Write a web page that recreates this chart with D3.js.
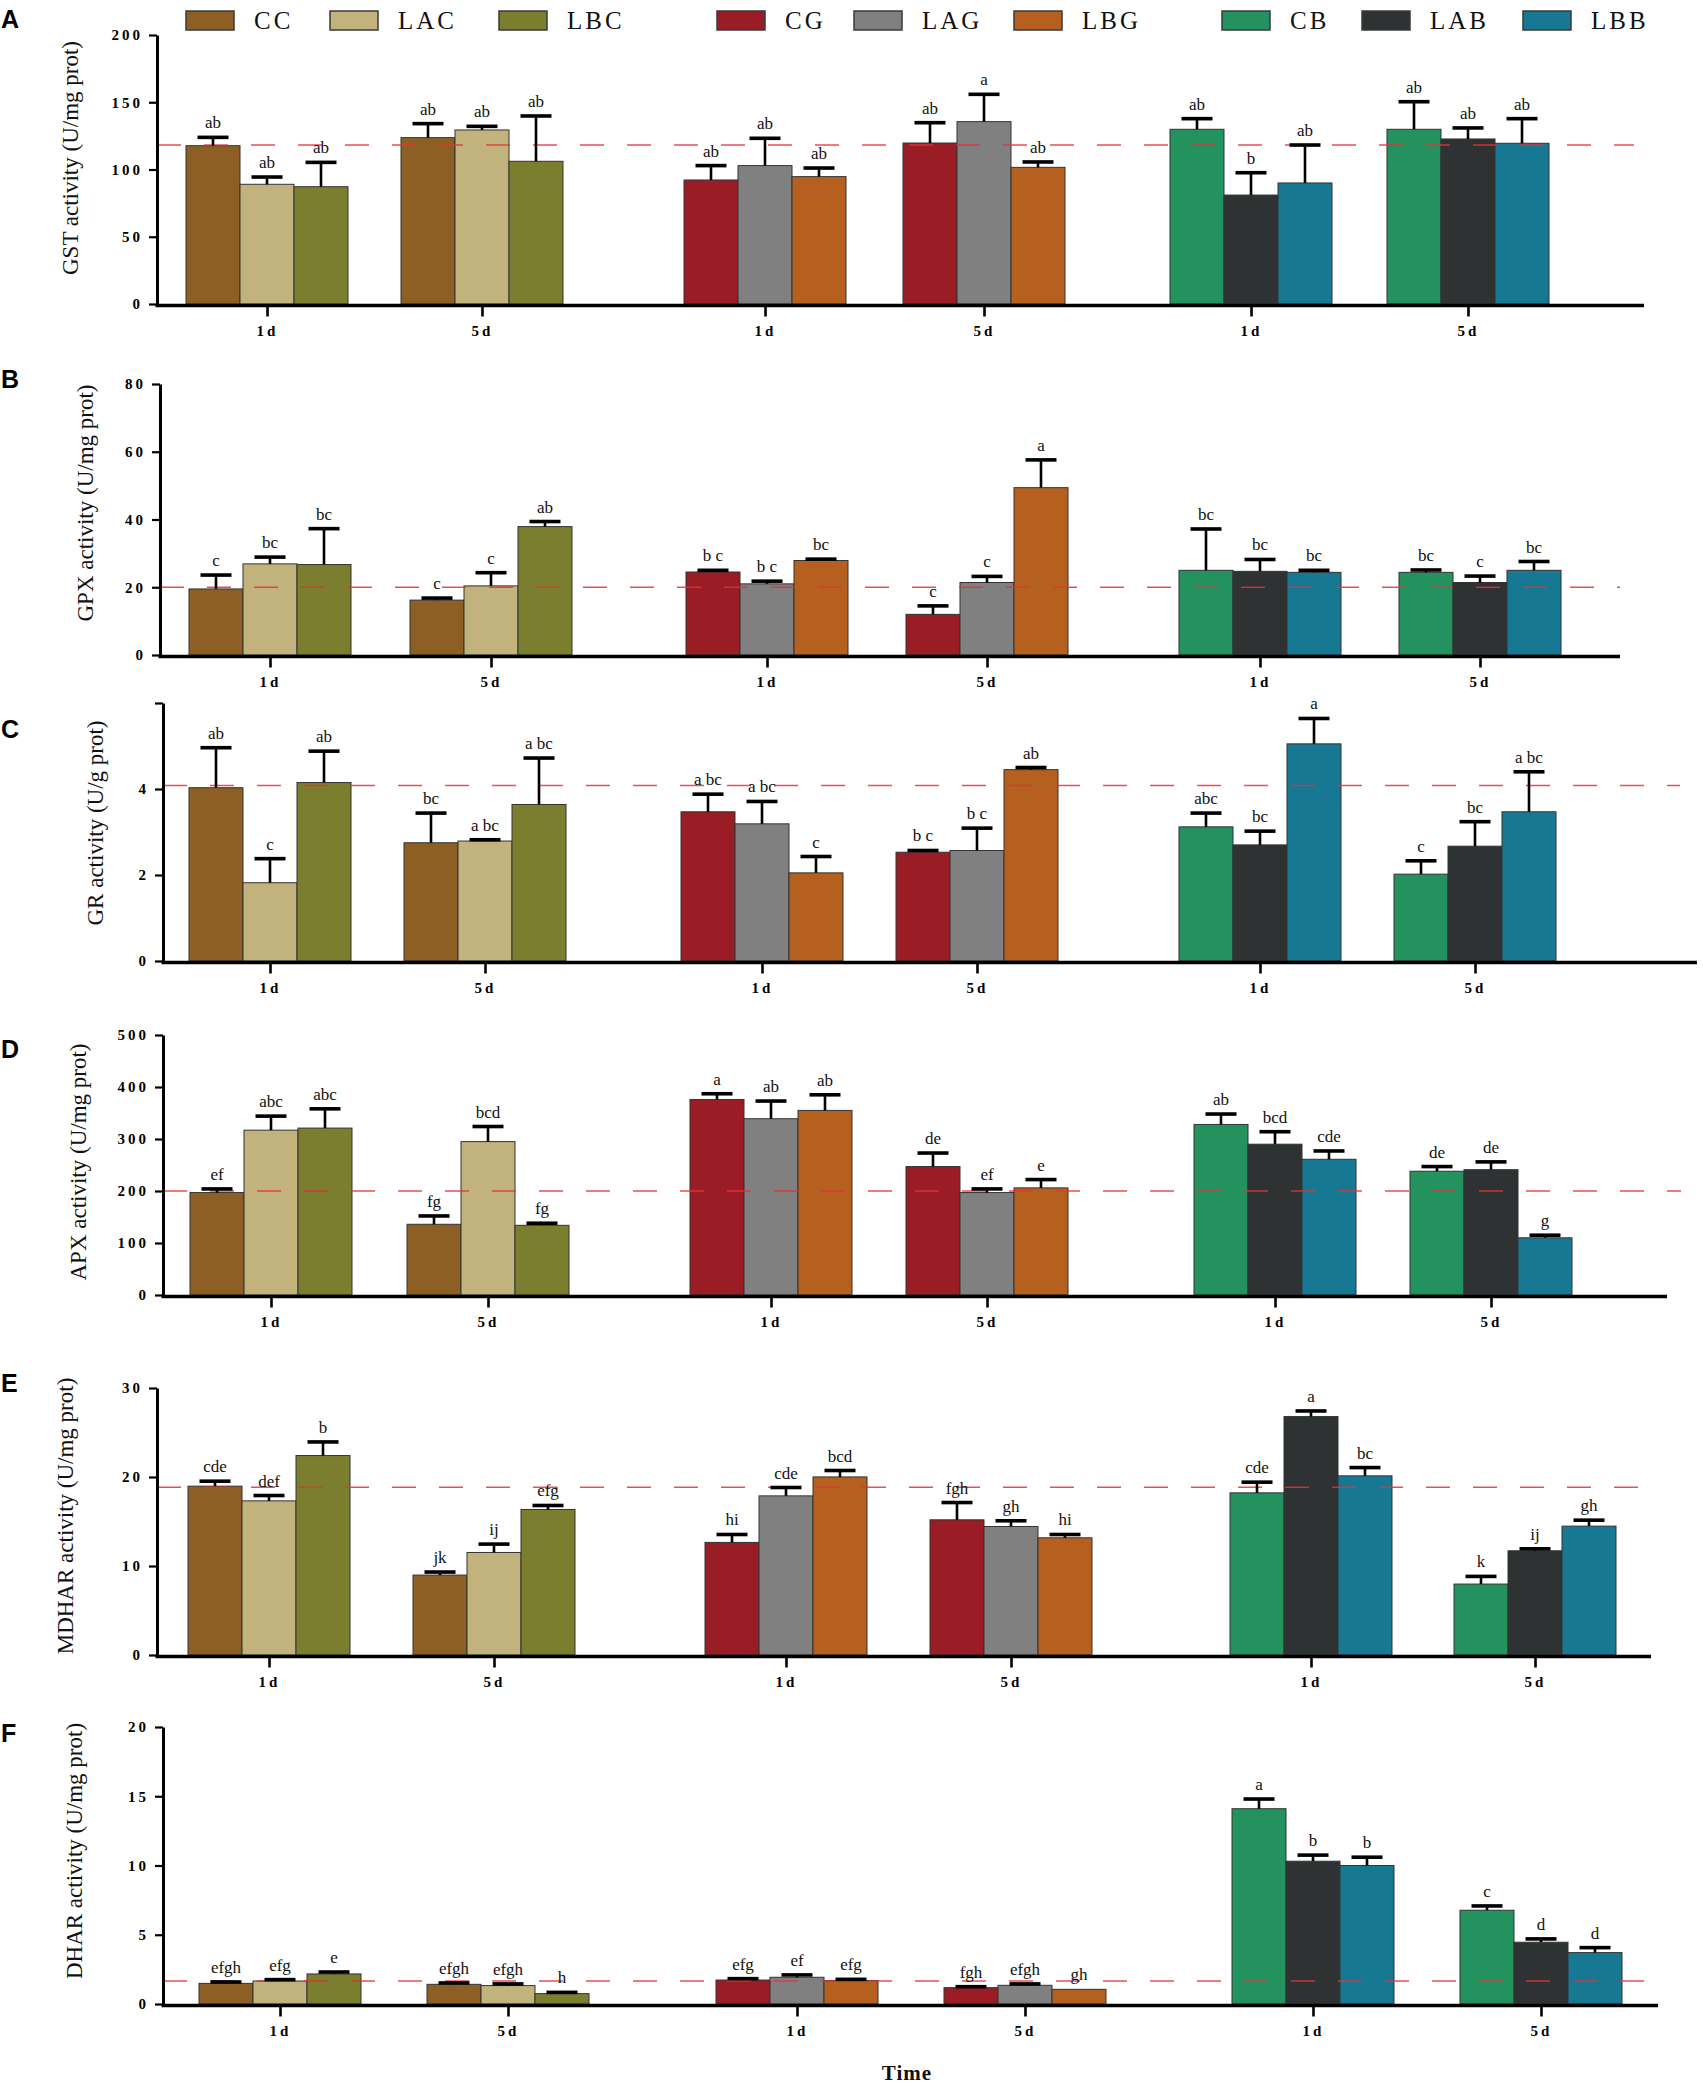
<!DOCTYPE html>
<html>
<head>
<meta charset="utf-8">
<script src="https://cdn.jsdelivr.net/npm/d3@7"></script>
<style>
  body { margin: 0; background: #fff; }
  svg { display: block; }
</style>
</head>
<body>
<div id="chart"></div>
<script>
// Datos
const GROUPS = ["1d", "5d", "1d", "5d", "1d", "5d"];
const SERIES = ["CC", "LAC", "LBC", "CG", "LAG", "LBG", "CB", "LAB", "LBB"];
const COLORS = ["#8d5f24", "#c1b37b", "#7b7e2f", "#9a1d25", "#808080", "#b6601f", "#23925f", "#2f3232", "#177893"];

// each row = one time group, three treatments (control, LA, LB)
const GST_MEAN = [[117.7, 89.0, 87.2], [123.7, 129.4, 106.1], [92.2, 102.9, 94.7], [119.7, 135.6, 101.6], [129.9, 81.0, 90.0], [129.9, 122.7, 119.5]];
const GST_ERR  = [[6.2, 5.4, 18.1], [10.4, 2.7, 33.7], [10.7, 20.3, 6.4], [15.1, 20.3, 4.0], [7.9, 16.6, 28.2], [20.5, 8.2, 18.3]];
const GST_SIG  = [["ab", "ab", "ab"], ["ab", "ab", "ab"], ["ab", "ab", "ab"], ["ab", "a", "ab"], ["ab", "b", "ab"], ["ab", "ab", "ab"]];
const GST_TICKS = [0, 50, 100, 150, 200];

const GPX_MEAN = [[19.5, 26.9, 26.7], [16.2, 20.4, 37.9], [24.5, 21.0, 27.9], [12.0, 21.4, 49.4], [25.0, 24.7, 24.4], [24.4, 21.4, 25.0]];
const GPX_ERR  = [[4.1, 2.0, 10.6], [0.6, 3.9, 1.5], [0.5, 0.8, 0.4], [2.5, 1.8, 8.2], [12.2, 3.5, 0.6], [0.7, 1.9, 2.6]];
const GPX_SIG  = [["c", "bc", "bc"], ["c", "c", "ab"], ["b c", "b c", "bc"], ["c", "c", "a"], ["bc", "bc", "bc"], ["bc", "c", "bc"]];
const GPX_TICKS = [0, 20, 40, 60, 80];

const GR_MEAN = [[4.03, 1.82, 4.15], [2.75, 2.79, 3.64], [3.47, 3.19, 2.05], [2.53, 2.57, 4.45], [3.12, 2.70, 5.05], [2.02, 2.67, 3.47]];
const GR_ERR  = [[0.93, 0.56, 0.73], [0.69, 0.03, 1.08], [0.41, 0.52, 0.38], [0.04, 0.52, 0.05], [0.32, 0.32, 0.59], [0.31, 0.57, 0.93]];
const GR_SIG  = [["ab", "c", "ab"], ["bc", "a bc", "a bc"], ["a bc", "a bc", "c"], ["b c", "b c", "ab"], ["abc", "bc", "a"], ["c", "bc", "a bc"]];
const GR_TICKS = [0, 2, 4, 6];

const APX_MEAN = [[197, 317, 321], [136, 295, 134], [376, 339, 355], [247, 197, 206], [328, 290, 261], [238, 241, 110]];
const APX_ERR  = [[7, 27, 37], [16, 29, 4], [11, 34, 30], [26, 7, 16], [20, 24, 16], [9, 15, 5]];
const APX_SIG  = [["ef", "abc", "abc"], ["fg", "bcd", "fg"], ["a", "ab", "ab"], ["de", "ef", "e"], ["ab", "bcd", "cde"], ["de", "de", "g"]];
const APX_TICKS = [0, 100, 200, 300, 400, 500];

const MDHAR_MEAN = [[18.97, 17.32, 22.41], [8.98, 11.52, 16.35], [12.65, 17.88, 20.01], [15.19, 14.44, 13.17], [18.22, 26.79, 20.13], [7.97, 11.71, 14.48]];
const MDHAR_ERR  = [[0.56, 0.60, 1.53], [0.34, 0.94, 0.45], [0.89, 0.94, 0.72], [1.94, 0.64, 0.37], [1.20, 0.63, 0.93], [0.86, 0.22, 0.67]];
const MDHAR_SIG  = [["cde", "def", "b"], ["jk", "ij", "efg"], ["hi", "cde", "bcd"], ["fgh", "gh", "hi"], ["cde", "a", "bc"], ["k", "ij", "gh"]];
const MDHAR_TICKS = [0, 10, 20, 30];

const DHAR_MEAN = [[1.49, 1.66, 2.17], [1.42, 1.33, 0.75], [1.73, 1.93, 1.69], [1.18, 1.35, 1.06], [14.1, 10.31, 10.0], [6.77, 4.46, 3.71]];
const DHAR_ERR  = [[0.10, 0.10, 0.14], [0.10, 0.12, 0.09], [0.10, 0.17, 0.09], [0.07, 0.10, 0.0], [0.70, 0.44, 0.60], [0.31, 0.24, 0.36]];
const DHAR_SIG  = [["efgh", "efg", "e"], ["efgh", "efgh", "h"], ["efg", "ef", "efg"], ["fgh", "efgh", "gh"], ["a", "b", "b"], ["c", "d", "d"]];
const DHAR_TICKS = [0, 5, 10, 15, 20];

// reference (control) level, dashed red line
const REF_LEVELS = [118.2, 20, 4.08, 200, 18.85, 1.66];

// Layout de cada panel
const PANELS = [
  { key: "A", title: "GST activity (U/mg prot)",   mean: GST_MEAN,   err: GST_ERR,   sig: GST_SIG,   ticks: GST_TICKS,
    x: 157, end: 1644, dashEnd: 1634, yTop: 35,   yZero: 304,  centers: [267, 482, 765, 984, 1251, 1468], tx: 70, ty: 158,  ly: 28 },
  { key: "B", title: "GPX activity (U/mg prot)",   mean: GPX_MEAN,   err: GPX_ERR,   sig: GPX_SIG,   ticks: GPX_TICKS,
    x: 160, end: 1620, dashEnd: 1620, yTop: 384,  yZero: 655,  centers: [270, 491, 767, 987, 1260, 1480], tx: 85, ty: 503,  ly: 388 },
  { key: "C", title: "GR activity (U/g prot)",     mean: GR_MEAN,    err: GR_ERR,    sig: GR_SIG,    ticks: GR_TICKS, hideTop: true,
    x: 163, end: 1697, dashEnd: 1680, yTop: 703,  yZero: 961,  centers: [270, 485, 762, 977, 1260, 1475], tx: 95, ty: 823,  ly: 738 },
  { key: "D", title: "APX activity (U/mg prot)",   mean: APX_MEAN,   err: APX_ERR,   sig: APX_SIG,   ticks: APX_TICKS,
    x: 163, end: 1667, dashEnd: 1681, yTop: 1035, yZero: 1295, centers: [271, 488, 771, 987, 1275, 1491], tx: 78, ty: 1162, ly: 1058 },
  { key: "E", title: "MDHAR activity (U/mg prot)", mean: MDHAR_MEAN, err: MDHAR_ERR, sig: MDHAR_SIG, ticks: MDHAR_TICKS,
    x: 157, end: 1651, dashEnd: 1648, yTop: 1388, yZero: 1655, centers: [269, 494, 786, 1011, 1311, 1535], tx: 65, ty: 1516, ly: 1392 },
  { key: "F", title: "DHAR activity (U/mg prot)",  mean: DHAR_MEAN,  err: DHAR_ERR,  sig: DHAR_SIG,  ticks: DHAR_TICKS,
    x: 163, end: 1658, dashEnd: 1656, yTop: 1727, yZero: 2004, centers: [280, 508, 797, 1025, 1313, 1541], tx: 74, ty: 1851, ly: 1742 }
];

const WIDTH = 1703, HEIGHT = 2086;
const BAR_W = 54;
const SERIF = "'Liberation Serif', 'Times New Roman', serif";
const LEGEND_X = [186, 330, 499, 717, 854, 1014, 1222, 1362, 1523];

const svg = d3.select("#chart").append("svg")
  .attr("width", WIDTH).attr("height", HEIGHT)
  .attr("viewBox", `0 0 ${WIDTH} ${HEIGHT}`);

svg.append("rect").attr("width", WIDTH).attr("height", HEIGHT).attr("fill", "#fff");

// Leyenda arriba
const legend = svg.append("g");
legend.selectAll("g.item").data(SERIES).join("g").attr("class", "item")
  .attr("transform", (d, i) => `translate(${LEGEND_X[i]},11)`)
  .call(s => {
    s.append("rect").attr("width", 48).attr("height", 19)
      .attr("fill", (d, i) => COLORS[i]).attr("stroke", "#3a3a3a").attr("stroke-width", 1.5);
    s.append("text").attr("x", 68).attr("y", 18)
      .attr("font-family", SERIF).attr("font-size", 25).attr("letter-spacing", 3)
      .attr("fill", "#111").text(d => d);
  });

function drawPanel(p, pi) {
  const g = svg.append("g").attr("class", "panel");

  const y = d3.scaleLinear().domain([0, d3.max(p.ticks)]).range([p.yZero, p.yTop]);
  const xg = d3.scaleLinear().domain(d3.range(GROUPS.length)).range(p.centers);
  const xs = d3.scaleBand().domain([0, 1, 2]).range([-1.5 * BAR_W, 1.5 * BAR_W]).padding(0);

  const rows = [];
  p.mean.forEach((grp, gi) => grp.forEach((v, k) => rows.push({
    gi, k, value: v, err: p.err[gi][k], sig: p.sig[gi][k],
    color: COLORS[Math.floor(gi / 2) * 3 + k]
  })));

  // barras
  g.selectAll("rect.bar").data(rows).join("rect").attr("class", "bar")
    .attr("x", d => xg(d.gi) + xs(d.k))
    .attr("y", d => y(d.value))
    .attr("width", xs.bandwidth())
    .attr("height", d => y(0) - y(d.value))
    .attr("fill", d => d.color)
    .attr("stroke", "#333").attr("stroke-width", 1);

  // línea de referencia
  g.append("line")
    .attr("x1", p.x).attr("x2", p.dashEnd)
    .attr("y1", y(REF_LEVELS[pi])).attr("y2", y(REF_LEVELS[pi]))
    .attr("stroke", "#e2333a").attr("stroke-width", 1.6).attr("stroke-opacity", 0.85)
    .attr("stroke-dasharray", "24,23");

  // barras de error
  const eb = g.selectAll("g.err").data(rows.filter(d => d.err > 0)).join("g").attr("class", "err")
    .attr("transform", d => `translate(${xg(d.gi) + xs(d.k) + xs.bandwidth() / 2},0)`);
  eb.append("line")
    .attr("y1", d => y(d.value)).attr("y2", d => y(d.value + d.err))
    .attr("stroke", "#000").attr("stroke-width", 2.6);
  eb.append("line")
    .attr("x1", -15.5).attr("x2", 15.5)
    .attr("y1", d => y(d.value + d.err)).attr("y2", d => y(d.value + d.err))
    .attr("stroke", "#000").attr("stroke-width", 3.6);

  // letras de significancia
  g.selectAll("text.sig").data(rows).join("text").attr("class", "sig")
    .attr("x", d => xg(d.gi) + xs(d.k) + xs.bandwidth() / 2)
    .attr("y", d => y(d.value + d.err) - 9)
    .attr("text-anchor", "middle")
    .attr("font-family", SERIF).attr("font-size", 17).attr("fill", "#111")
    .text(d => d.sig);

  // eje Y
  const yAxis = g.append("g").attr("transform", `translate(${p.x},0)`)
    .call(d3.axisLeft(y).tickValues(p.ticks).tickSize(8).tickPadding(6).tickSizeOuter(0)
      .tickFormat(d => (p.hideTop && d === d3.max(p.ticks)) ? "" : d));
  yAxis.select(".domain").attr("stroke", "#000").attr("stroke-width", 3);
  yAxis.selectAll(".tick line").attr("stroke", "#000").attr("stroke-width", 2.2);
  yAxis.selectAll(".tick text")
    .attr("font-family", SERIF).attr("font-size", 15).attr("font-weight", "bold")
    .attr("letter-spacing", 3).attr("fill", "#000");

  // eje X
  g.append("line")
    .attr("x1", p.x - 1.5).attr("x2", p.end)
    .attr("y1", p.yZero + 1.5).attr("y2", p.yZero + 1.5)
    .attr("stroke", "#000").attr("stroke-width", 3.6);
  const xAxis = g.append("g").attr("transform", `translate(0,${p.yZero + 1.5})`)
    .call(d3.axisBottom(xg).tickValues(d3.range(GROUPS.length)).tickSize(11).tickPadding(9)
      .tickFormat(i => GROUPS[i]));
  xAxis.select(".domain").remove();
  xAxis.selectAll(".tick line").attr("stroke", "#000").attr("stroke-width", 2.6);
  xAxis.selectAll(".tick text")
    .attr("font-family", SERIF).attr("font-size", 15).attr("font-weight", "bold")
    .attr("letter-spacing", 3).attr("fill", "#000");

  // título del eje Y
  g.append("text")
    .attr("transform", `translate(${p.tx},${p.ty}) rotate(-90)`)
    .attr("text-anchor", "middle").attr("dy", "0.35em")
    .attr("font-family", SERIF).attr("font-size", 23).attr("fill", "#111")
    .text(p.title);

  // letra del panel
  g.append("text")
    .attr("x", 1).attr("y", p.ly)
    .attr("font-family", "'Liberation Sans', Arial, sans-serif")
    .attr("font-size", 25).attr("font-weight", "bold").attr("fill", "#000")
    .text(p.key);
}

PANELS.forEach(drawPanel);

svg.append("text")
  .attr("x", 907).attr("y", 2080).attr("text-anchor", "middle")
  .attr("font-family", SERIF).attr("font-size", 21).attr("font-weight", "bold")
  .attr("letter-spacing", 1).attr("fill", "#111")
  .text("Time");
</script>
</body>
</html>
